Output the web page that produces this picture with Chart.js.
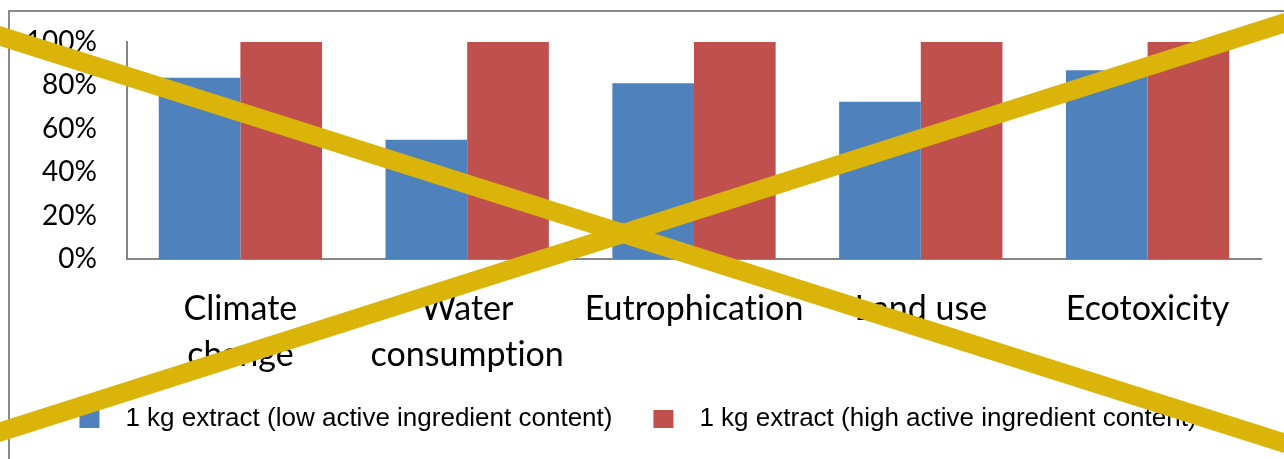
<!DOCTYPE html>
<html>
<head>
<meta charset="utf-8">
<script src="https://cdn.jsdelivr.net/npm/chart.js@4/dist/chart.umd.min.js"></script>
<style>
  html, body { margin: 0; padding: 0; background: #ffffff; overflow: hidden; }
  #wrap { width: 1284px; height: 459px; position: relative; }
</style>
</head>
<body>
<div id="wrap"><canvas id="c" width="1284" height="459"></canvas></div>
<script>
// Impact categories (multi-line labels are arrays)
const categories = [['Climate', 'change'], ['Water', 'consumption'], 'Eutrophication', 'Land use', 'Ecotoxicity'];

// Relative impact per category, in percent of the larger extract
const lowContent = [83.5, 55, 81, 72.5, 87];
const highContent = [100, 100, 100, 100, 100];

const seriesNames = [
  '1 kg extract (low active ingredient content)',
  '1 kg extract (high active ingredient content)'
];

// Y-axis tick values (percent)
const yTickValues = [0, 20, 40, 60, 80, 100];

const seriesColors = ['#4F81BD', '#C0504D'];
const axisGray = '#868686';

// Legend swatch: a 20x18 square inside a wider transparent strip,
// leaving room before the square and a wide gap before the label text.
const SWATCH_STRIP = 48;
function legendSwatch(color) {
  const cv = document.createElement('canvas');
  cv.width = SWATCH_STRIP;
  cv.height = 18;
  const g = cv.getContext('2d');
  g.fillStyle = color;
  g.fillRect(15, 0, 20, 18);
  return cv;
}

// Outer frame of the chart object (runs off the right and bottom edges)
const framePlugin = {
  id: 'frame',
  beforeDraw(chart) {
    const ctx = chart.ctx;
    ctx.textRendering = 'optimizeSpeed'; // plain glyphs, no "ti" ligature
    ctx.save();
    ctx.strokeStyle = '#8a8a8a';
    ctx.lineWidth = 2;
    ctx.beginPath();
    ctx.moveTo(9, chart.height + 10);
    ctx.lineTo(9, 11);
    ctx.lineTo(chart.width + 10, 11);
    ctx.stroke();
    ctx.restore();
  }
};

// Large yellow cross struck through the whole chart
const crossPlugin = {
  id: 'cross',
  afterDraw(chart) {
    const ctx = chart.ctx;
    const w = chart.width, h = chart.height;
    ctx.save();
    ctx.strokeStyle = '#DAB408';
    ctx.lineWidth = 19;
    ctx.lineCap = 'butt';
    ctx.beginPath();
    ctx.moveTo(-10, h * 0.0784 - 3.2);
    ctx.lineTo(w + 10, h * 0.9651 + 3.2);
    ctx.moveTo(-10, h * 0.9412 + 3.2);
    ctx.lineTo(w + 10, h * 0.0501 - 3.2);
    ctx.stroke();
    ctx.restore();
  }
};

new Chart(document.getElementById('c'), {
  type: 'bar',
  data: {
    labels: categories,
    datasets: [
      {
        label: seriesNames[0],
        data: lowContent,
        backgroundColor: seriesColors[0],
        borderWidth: 0,
        pointStyle: legendSwatch(seriesColors[0])
      },
      {
        label: seriesNames[1],
        data: highContent,
        backgroundColor: seriesColors[1],
        borderWidth: 0,
        pointStyle: legendSwatch(seriesColors[1])
      }
    ]
  },
  options: {
    responsive: false,
    devicePixelRatio: 1,
    animation: false,
    datasets: {
      bar: { categoryPercentage: 0.72, barPercentage: 1.0 }
    },
    layout: {
      padding: { left: 0, top: 42, right: 23, bottom: 17 }
    },
    plugins: {
      legend: {
        position: 'bottom',
        labels: {
          usePointStyle: true,
          pointStyleWidth: SWATCH_STRIP,
          boxHeight: 18,
          padding: 26,
          color: '#000000',
          font: { family: '"Liberation Sans", Arial, sans-serif', size: 26 }
        }
      },
      tooltip: { enabled: false }
    },
    scales: {
      x: {
        grid: { display: false, drawTicks: false },
        border: { display: true, color: axisGray, width: 2 },
        ticks: {
          color: '#000000',
          font: { family: 'Lato, "Open Sans", sans-serif', size: 34, lineHeight: 1.36 },
          padding: 27,
          maxRotation: 0,
          autoSkip: false
        },
        afterFit(scale) { scale.height = 121; }
      },
      y: {
        min: 0,
        max: 100,
        grid: { display: false, drawTicks: false },
        border: { display: true, color: axisGray, width: 2 },
        afterBuildTicks(scale) {
          scale.ticks = yTickValues.map(v => ({ value: v }));
        },
        ticks: {
          color: '#000000',
          font: { family: 'Lato, "Open Sans", sans-serif', size: 28 },
          padding: 30,
          callback: v => v + '%'
        },
        afterFit(scale) {
          scale.width = 127;
          scale.paddingTop = 0;
          scale.paddingBottom = 0;
        }
      }
    }
  },
  plugins: [framePlugin, crossPlugin]
});
</script>
</body>
</html>
